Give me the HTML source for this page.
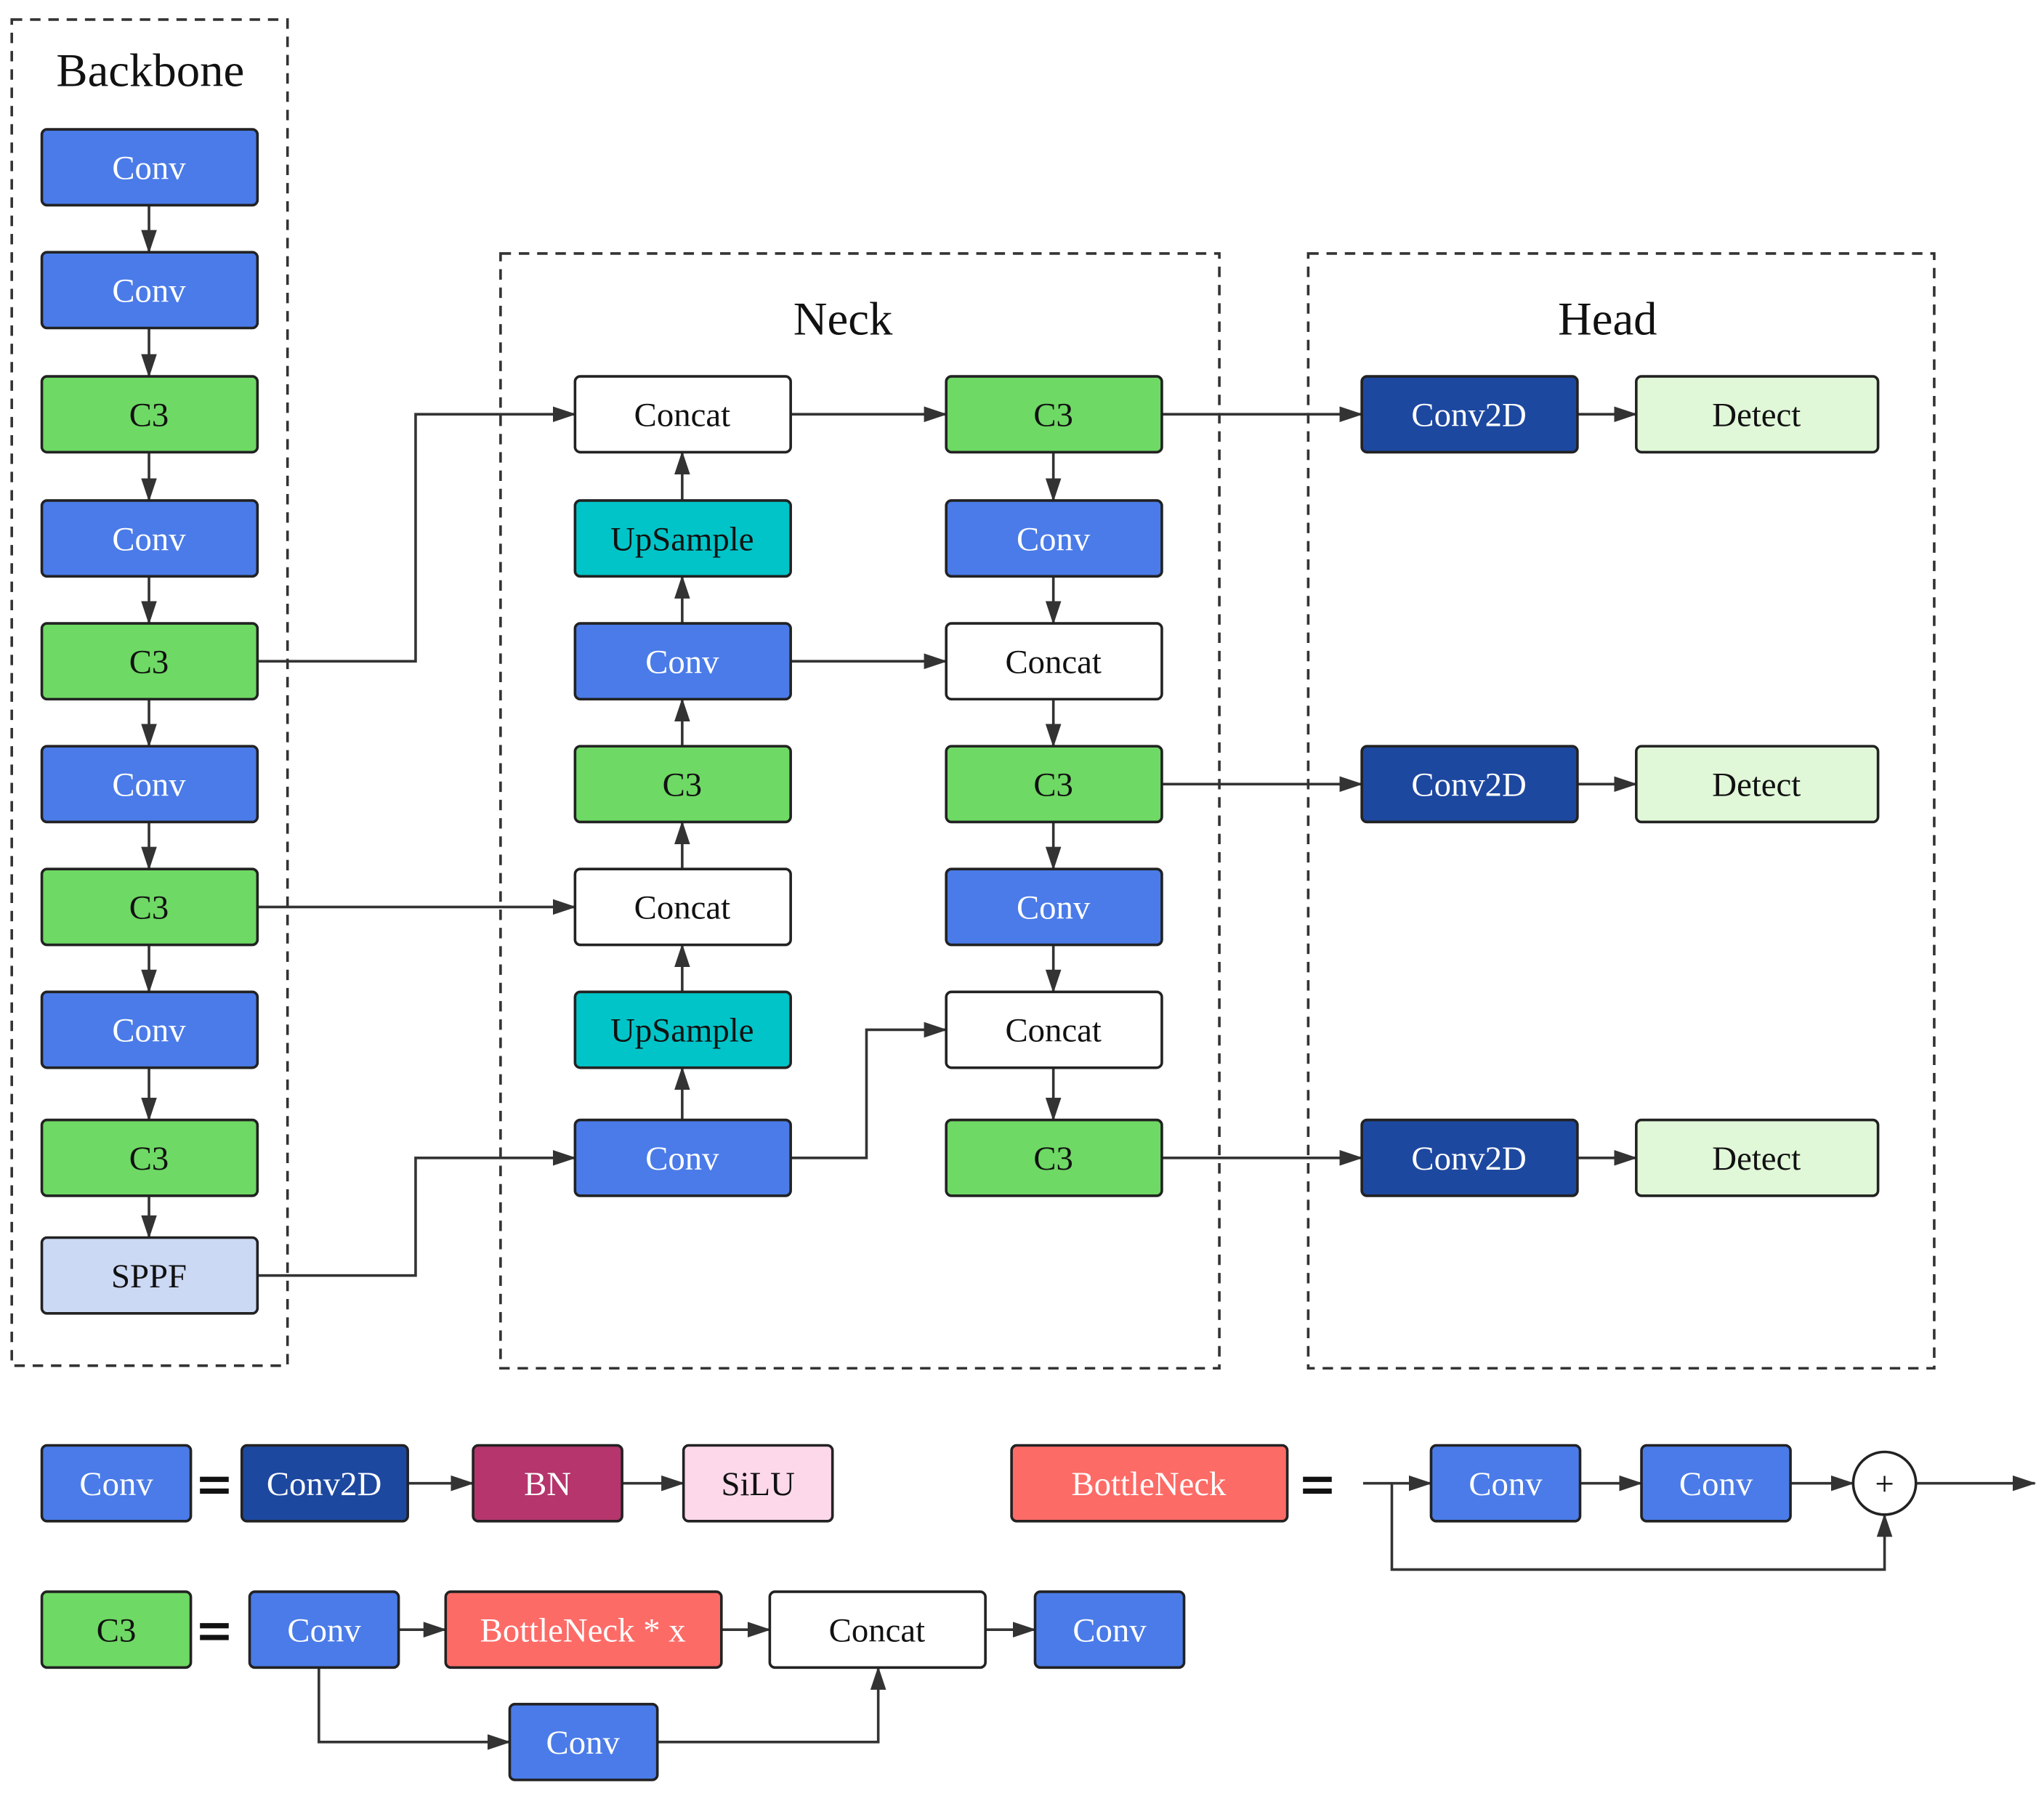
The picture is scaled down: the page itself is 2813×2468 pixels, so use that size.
<!DOCTYPE html>
<html><head><meta charset="utf-8"><style>html,body{margin:0;padding:0;background:#fff}svg{display:block}text{font-family:"Liberation Serif",serif}</style></head><body>
<svg width="2813" height="2468" viewBox="0 0 1564 1372" preserveAspectRatio="none" xmlns="http://www.w3.org/2000/svg">
<defs><marker id="a" markerWidth="10" markerHeight="10" refX="9" refY="5" orient="auto" markerUnits="userSpaceOnUse"><path d="M0,0 L10,5 L0,10 z" fill="#333"/></marker>
<marker id="b" markerWidth="18" markerHeight="12" refX="17" refY="6" orient="auto" markerUnits="userSpaceOnUse"><path d="M0,0 L18,6 L0,12 z" fill="#333"/></marker></defs>
<g fill="none" stroke="#333" stroke-width="2" stroke-dasharray="8,6">
<rect x="9" y="15" width="211" height="1030"/><rect x="383" y="194" width="550" height="853"/><rect x="1001" y="194" width="479" height="853"/></g>
<g font-size="36" text-anchor="middle" fill="#111"><text x="115" y="66">Backbone</text><text x="645" y="256">Neck</text><text x="1230" y="256">Head</text></g>
<g stroke="#333" stroke-width="2" fill="none" marker-end="url(#b)">
<path d="M114,157V193"/><path d="M114,251V288"/><path d="M114,346V383"/><path d="M114,441V477"/><path d="M114,535V571"/><path d="M114,629V665"/><path d="M114,723V759"/><path d="M114,817V857"/><path d="M114,915V947"/>
<path d="M197,506H318V317H440"/><path d="M197,694H440"/><path d="M197,976H318V886H440"/><path d="M605,886H663V788H724"/>
<path d="M522,857V817"/><path d="M522,759V723"/><path d="M522,665V629"/><path d="M522,571V535"/><path d="M522,477V441"/><path d="M522,383V346"/>
<path d="M605,317H724"/><path d="M605,506H724"/>
<path d="M806,346V383"/><path d="M806,441V477"/><path d="M806,535V571"/><path d="M806,629V665"/><path d="M806,723V759"/><path d="M806,817V857"/>
<path d="M889,317H1042"/><path d="M889,600H1042"/><path d="M889,886H1042"/>
<path d="M1207,317H1252"/><path d="M1207,600H1252"/><path d="M1207,886H1252"/>
<path d="M312,1135H362"/><path d="M476,1135H523"/>
<path d="M1043,1135H1095"/><path d="M1209,1135H1256"/><path d="M1370,1135H1418"/><path d="M1466,1135H1557"/><path d="M1065,1135V1201H1442V1159"/>
<path d="M305,1247H341"/><path d="M552,1247H589"/><path d="M754,1247H792"/><path d="M244,1276V1333H390"/><path d="M503,1333H672V1276"/>
</g>
<g stroke="#222" stroke-width="2" font-size="26" text-anchor="middle">
<!-- backbone -->
<rect x="32" y="99" width="165" height="58" rx="4" fill="#4a7be8"/><text x="114" y="137" fill="#fff" stroke="none">Conv</text>
<rect x="32" y="193" width="165" height="58" rx="4" fill="#4a7be8"/><text x="114" y="231" fill="#fff" stroke="none">Conv</text>
<rect x="32" y="288" width="165" height="58" rx="4" fill="#6ed964"/><text x="114" y="326" fill="#111" stroke="none">C3</text>
<rect x="32" y="383" width="165" height="58" rx="4" fill="#4a7be8"/><text x="114" y="421" fill="#fff" stroke="none">Conv</text>
<rect x="32" y="477" width="165" height="58" rx="4" fill="#6ed964"/><text x="114" y="515" fill="#111" stroke="none">C3</text>
<rect x="32" y="571" width="165" height="58" rx="4" fill="#4a7be8"/><text x="114" y="609" fill="#fff" stroke="none">Conv</text>
<rect x="32" y="665" width="165" height="58" rx="4" fill="#6ed964"/><text x="114" y="703" fill="#111" stroke="none">C3</text>
<rect x="32" y="759" width="165" height="58" rx="4" fill="#4a7be8"/><text x="114" y="797" fill="#fff" stroke="none">Conv</text>
<rect x="32" y="857" width="165" height="58" rx="4" fill="#6ed964"/><text x="114" y="895" fill="#111" stroke="none">C3</text>
<rect x="32" y="947" width="165" height="58" rx="4" fill="#ccd9f5"/><text x="114" y="985" fill="#111" stroke="none">SPPF</text>
<!-- neck col1 -->
<rect x="440" y="288" width="165" height="58" rx="4" fill="#fff"/><text x="522" y="326" fill="#111" stroke="none">Concat</text>
<rect x="440" y="383" width="165" height="58" rx="4" fill="#00c4c8"/><text x="522" y="421" fill="#111" stroke="none">UpSample</text>
<rect x="440" y="477" width="165" height="58" rx="4" fill="#4a7be8"/><text x="522" y="515" fill="#fff" stroke="none">Conv</text>
<rect x="440" y="571" width="165" height="58" rx="4" fill="#6ed964"/><text x="522" y="609" fill="#111" stroke="none">C3</text>
<rect x="440" y="665" width="165" height="58" rx="4" fill="#fff"/><text x="522" y="703" fill="#111" stroke="none">Concat</text>
<rect x="440" y="759" width="165" height="58" rx="4" fill="#00c4c8"/><text x="522" y="797" fill="#111" stroke="none">UpSample</text>
<rect x="440" y="857" width="165" height="58" rx="4" fill="#4a7be8"/><text x="522" y="895" fill="#fff" stroke="none">Conv</text>
<!-- neck col2 -->
<rect x="724" y="288" width="165" height="58" rx="4" fill="#6ed964"/><text x="806" y="326" fill="#111" stroke="none">C3</text>
<rect x="724" y="383" width="165" height="58" rx="4" fill="#4a7be8"/><text x="806" y="421" fill="#fff" stroke="none">Conv</text>
<rect x="724" y="477" width="165" height="58" rx="4" fill="#fff"/><text x="806" y="515" fill="#111" stroke="none">Concat</text>
<rect x="724" y="571" width="165" height="58" rx="4" fill="#6ed964"/><text x="806" y="609" fill="#111" stroke="none">C3</text>
<rect x="724" y="665" width="165" height="58" rx="4" fill="#4a7be8"/><text x="806" y="703" fill="#fff" stroke="none">Conv</text>
<rect x="724" y="759" width="165" height="58" rx="4" fill="#fff"/><text x="806" y="797" fill="#111" stroke="none">Concat</text>
<rect x="724" y="857" width="165" height="58" rx="4" fill="#6ed964"/><text x="806" y="895" fill="#111" stroke="none">C3</text>
<!-- head -->
<rect x="1042" y="288" width="165" height="58" rx="4" fill="#1d48a0"/><text x="1124" y="326" fill="#fff" stroke="none">Conv2D</text>
<rect x="1252" y="288" width="185" height="58" rx="4" fill="#e0f7d8"/><text x="1344" y="326" fill="#111" stroke="none">Detect</text>
<rect x="1042" y="571" width="165" height="58" rx="4" fill="#1d48a0"/><text x="1124" y="609" fill="#fff" stroke="none">Conv2D</text>
<rect x="1252" y="571" width="185" height="58" rx="4" fill="#e0f7d8"/><text x="1344" y="609" fill="#111" stroke="none">Detect</text>
<rect x="1042" y="857" width="165" height="58" rx="4" fill="#1d48a0"/><text x="1124" y="895" fill="#fff" stroke="none">Conv2D</text>
<rect x="1252" y="857" width="185" height="58" rx="4" fill="#e0f7d8"/><text x="1344" y="895" fill="#111" stroke="none">Detect</text>
<!-- legend -->
<rect x="32" y="1106" width="114" height="58" rx="4" fill="#4a7be8"/><text x="89" y="1144" fill="#fff" stroke="none">Conv</text>
<rect x="185" y="1106" width="127" height="58" rx="4" fill="#1d48a0"/><text x="248" y="1144" fill="#fff" stroke="none">Conv2D</text>
<rect x="362" y="1106" width="114" height="58" rx="4" fill="#b5356c"/><text x="419" y="1144" fill="#fff" stroke="none">BN</text>
<rect x="523" y="1106" width="114" height="58" rx="4" fill="#fdd8ea"/><text x="580" y="1144" fill="#111" stroke="none">SiLU</text>
<rect x="774" y="1106" width="211" height="58" rx="4" fill="#fd6b67"/><text x="879" y="1144" fill="#fff" stroke="none">BottleNeck</text>
<rect x="1095" y="1106" width="114" height="58" rx="4" fill="#4a7be8"/><text x="1152" y="1144" fill="#fff" stroke="none">Conv</text>
<rect x="1256" y="1106" width="114" height="58" rx="4" fill="#4a7be8"/><text x="1313" y="1144" fill="#fff" stroke="none">Conv</text>
<circle cx="1442" cy="1135" r="24" fill="#fff"/><text x="1442" y="1144" fill="#111" stroke="none">+</text>
<rect x="32" y="1218" width="114" height="58" rx="4" fill="#6ed964"/><text x="89" y="1256" fill="#111" stroke="none">C3</text>
<rect x="191" y="1218" width="114" height="58" rx="4" fill="#4a7be8"/><text x="248" y="1256" fill="#fff" stroke="none">Conv</text>
<rect x="341" y="1218" width="211" height="58" rx="4" fill="#fd6b67"/><text x="446" y="1256" fill="#fff" stroke="none">BottleNeck * x</text>
<rect x="589" y="1218" width="165" height="58" rx="4" fill="#fff"/><text x="671" y="1256" fill="#111" stroke="none">Concat</text>
<rect x="792" y="1218" width="114" height="58" rx="4" fill="#4a7be8"/><text x="849" y="1256" fill="#fff" stroke="none">Conv</text>
<rect x="390" y="1304" width="113" height="58" rx="4" fill="#4a7be8"/><text x="446" y="1342" fill="#fff" stroke="none">Conv</text>
</g>
<g fill="#111"><rect x="153" y="1130" width="22" height="4"/><rect x="153" y="1139" width="22" height="4"/>
<rect x="997" y="1130" width="22" height="4"/><rect x="997" y="1139" width="22" height="4"/>
<rect x="153" y="1242" width="22" height="4"/><rect x="153" y="1251" width="22" height="4"/></g>
</svg>
</body></html>
